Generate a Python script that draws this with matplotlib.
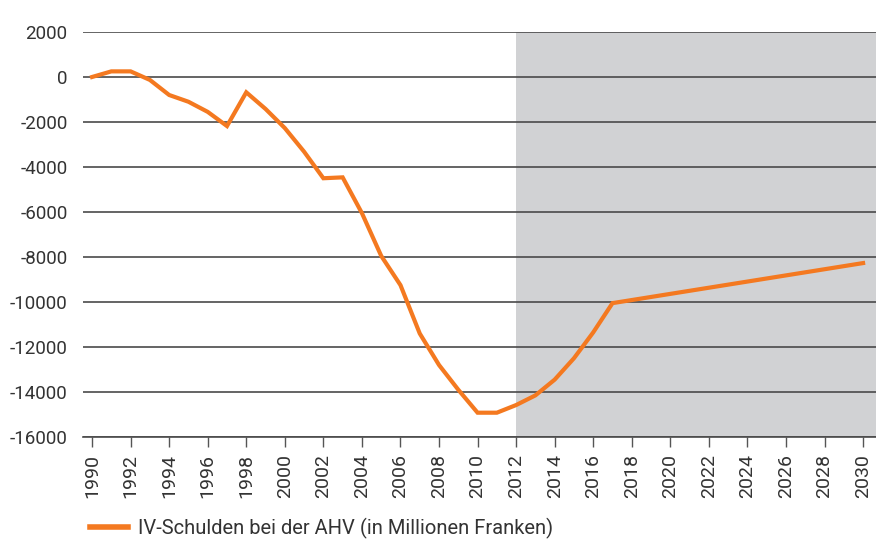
import matplotlib.pyplot as plt

plt.rcParams['font.family'] = ['Roboto', 'DejaVu Sans']

years = [1990, 1991, 1992, 1993, 1994, 1995, 1996, 1997, 1998, 1999,
         2000, 2001, 2002, 2003, 2004, 2005, 2006, 2007, 2008, 2009,
         2010, 2011, 2012, 2013, 2014, 2015, 2016, 2017, 2030]
schulden = [0, 250, 250, -130, -800, -1100, -1550, -2180, -680, -1420,
            -2270, -3320, -4500, -4460, -6050, -7950, -9250, -11400, -12800, -13900,
            -14920, -14920, -14580, -14150, -13450, -12500, -11350, -10050, -8270]
prognose_start = 2012
yticks = list(range(-16000, 2001, 2000))
xticks = list(range(1990, 2031, 2))

fig = plt.figure(figsize=(8.76, 5.39), dpi=100)
ax = fig.add_axes([83/876, 102/539, 1 - 83/876, 405/539])

ax.axvspan(prognose_start, 2031, color='#d1d2d4', lw=0, zorder=0)
for y in yticks:
    ax.axhline(y, color='#4a4a4a', lw=1.2, zorder=1)

ax.plot(years, schulden, color='#f47920', lw=3, solid_joinstyle='miter',
        label='IV-Schulden bei der AHV (in Millionen Franken)', zorder=3)

ax.set_xlim(1989.53, 2030.67)
ax.set_ylim(-16000, 2000)
ax.set_yticks(yticks)
ax.set_yticklabels([str(y) for y in yticks])
ax.set_xticks(xticks)
ax.set_xticklabels([str(x) for x in xticks], rotation=90)

for s in ['top', 'right', 'left']:
    ax.spines[s].set_visible(False)
ax.spines['bottom'].set_color('#4a4a4a')
ax.spines['bottom'].set_linewidth(1.2)
ax.tick_params(axis='y', length=0, pad=11, labelsize=13.5, labelcolor='#333333')
ax.tick_params(axis='x', length=7, width=1, color='#555555', pad=5,
               labelsize=14, labelcolor='#333333')

leg = fig.legend(loc='center left', bbox_to_anchor=(72/876, 11/539), frameon=False,
                 fontsize=14.5, handlelength=1.9, handletextpad=0.5, labelcolor='#333333')
leg.get_lines()[0].set_linewidth(4)

fig.savefig('out.png', dpi=100)
